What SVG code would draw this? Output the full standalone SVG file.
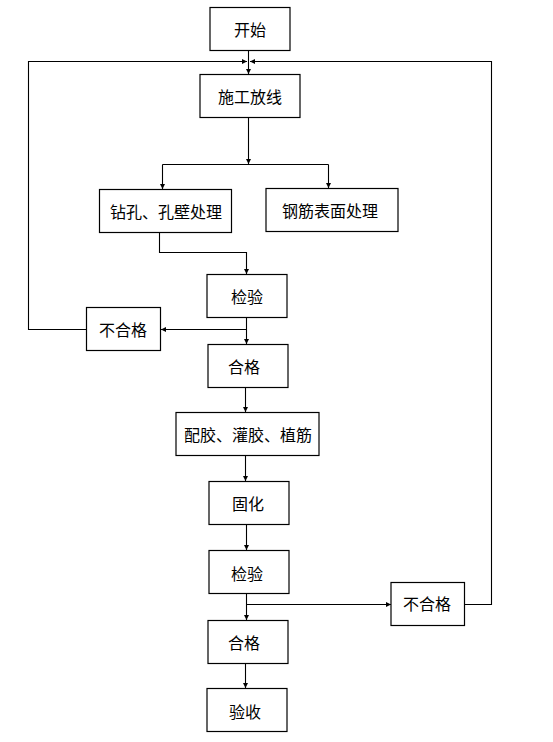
<svg xmlns="http://www.w3.org/2000/svg" width="553" height="742" viewBox="0 0 553 742">
<style>
.box{fill:#fff;stroke:#000;stroke-width:1.2}
.t{font-family:"Noto Sans CJK SC","Noto Sans CJK JP",sans-serif;font-size:16px;fill:#000;text-anchor:middle;dominant-baseline:central}
.c{fill:none;stroke:#000;stroke-width:1.1}
</style>
<defs>
<marker id="a" markerUnits="userSpaceOnUse" markerWidth="6" markerHeight="6" refX="5" refY="3" orient="auto">
<path d="M0,0.5 L5,3 L0,5.5 Z" fill="#000"/>
</marker>
</defs>
<rect width="553" height="742" fill="#fff"/>
<g id="connectors">
<path class="c" d="M248.5,50 V74" marker-end="url(#a)"/>
<path class="c" d="M86,329.5 H28.5 V61.5 H247" marker-end="url(#a)"/>
<path class="c" d="M465,604.5 H491.5 V61.5 H250" marker-end="url(#a)"/>
<path class="c" d="M248.5,117 V164" marker-end="url(#a)"/>
<path class="c" d="M162.5,164.5 H328.5"/>
<path class="c" d="M162.5,164.5 V189" marker-end="url(#a)"/>
<path class="c" d="M328.5,164.5 V188" marker-end="url(#a)"/>
<path class="c" d="M159.5,232 V252.5 H246.5 V274" marker-end="url(#a)"/>
<path class="c" d="M246.5,317 V344" marker-end="url(#a)"/>
<path class="c" d="M246.5,329.5 H161" marker-end="url(#a)"/>
<path class="c" d="M245.5,387 V412" marker-end="url(#a)"/>
<path class="c" d="M245.5,455 V481" marker-end="url(#a)"/>
<path class="c" d="M246.5,524 V550" marker-end="url(#a)"/>
<path class="c" d="M246.5,593 V620" marker-end="url(#a)"/>
<path class="c" d="M246.5,604.5 H391" marker-end="url(#a)"/>
<path class="c" d="M245.5,663 V688" marker-end="url(#a)"/>
</g>
<g id="start"><rect class="box" x="210" y="7.5" width="80" height="43"/><text class="t" x="250" y="29">开始</text></g>
<g id="layout"><rect class="box" x="200" y="74.5" width="100" height="43"/><text class="t" x="250" y="96">施工放线</text></g>
<g id="drill"><rect class="box" x="99.5" y="189.5" width="132" height="43"/><text class="t" x="166" y="211">钻孔、孔壁处理</text></g>
<g id="rebar"><rect class="box" x="266" y="188.5" width="132" height="43"/><text class="t" x="330" y="210">钢筋表面处理</text></g>
<g id="inspect1"><rect class="box" x="207" y="274.5" width="80" height="43"/><text class="t" x="247" y="296">检验</text></g>
<g id="fail1"><rect class="box" x="86.5" y="307.5" width="74" height="43"/><text class="t" x="123" y="329">不合格</text></g>
<g id="pass1"><rect class="box" x="208" y="344.5" width="80" height="43"/><text class="t" x="244" y="366">合格</text></g>
<g id="glue"><rect class="box" x="176" y="412.5" width="143" height="43"/><text class="t" x="248" y="434">配胶、灌胶、植筋</text></g>
<g id="cure"><rect class="box" x="209" y="481.5" width="80" height="43"/><text class="t" x="248" y="503">固化</text></g>
<g id="inspect2"><rect class="box" x="209" y="550.5" width="80" height="43"/><text class="t" x="247" y="573">检验</text></g>
<g id="fail2"><rect class="box" x="391" y="582.5" width="73.5" height="43"/><text class="t" x="427" y="603">不合格</text></g>
<g id="pass2"><rect class="box" x="208" y="620.5" width="80" height="43"/><text class="t" x="244" y="642">合格</text></g>
<g id="accept"><rect class="box" x="207" y="688.5" width="80" height="43"/><text class="t" x="245" y="711">验收</text></g>
</svg>
